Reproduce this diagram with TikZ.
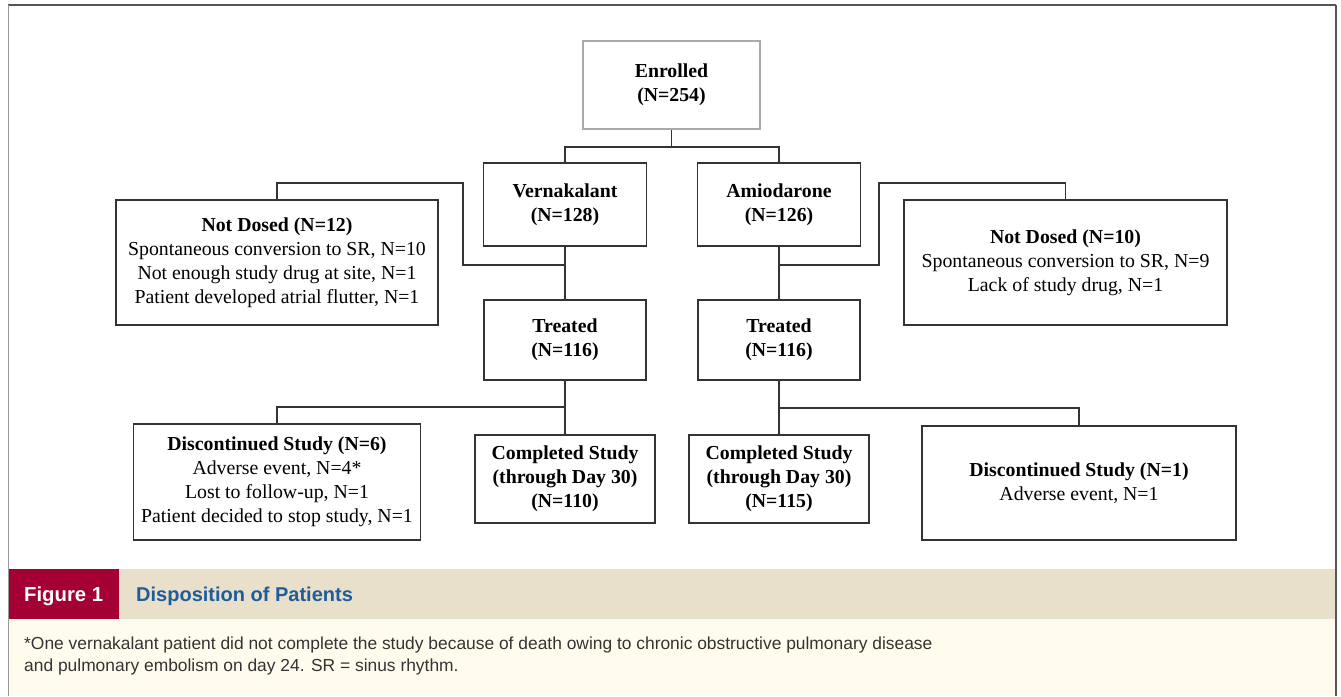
\documentclass[tikz,border=0pt]{standalone}
\usepackage{fontspec}
\setmainfont{Liberation Serif}
\newfontfamily\capfont{Liberation Sans}
\definecolor{linegray}{HTML}{333333}
\definecolor{boxgray}{HTML}{AAAAAA}
\definecolor{framegray}{HTML}{555555}
\definecolor{frameleft}{HTML}{999999}
\definecolor{capbar}{HTML}{E8E0CA}
\definecolor{figred}{HTML}{A50034}
\definecolor{capblue}{HTML}{1F5C99}
\definecolor{notebg}{HTML}{FFFCEE}
\definecolor{notetext}{HTML}{333333}
\tikzset{
  box/.style={draw=linegray, line width=1.6pt, rectangle, align=center, inner sep=0pt,
    font=\fontsize{19.8}{24}\selectfont},
  conn/.style={draw=linegray, line width=1.8pt},
}
\begin{document}
\begin{tikzpicture}[x=1pt,y=-1pt]
\useasboundingbox (0,0) rectangle (1341,696);
% background panels
\fill[white] (0,0) rectangle (1341,696);
\fill[capbar] (9,569) rectangle (1335,619);
\fill[figred] (9,569) rectangle (119,619);
\fill[notebg] (9,619) rectangle (1335,696);
% frame
\draw[framegray, line width=1.5pt] (8,5) -- (1336,5);
\draw[frameleft, line width=1.5pt] (8.5,5) -- (8.5,696);
\draw[framegray, line width=2pt] (1336,5) -- (1336,696);

% boxes
\node[box, draw=boxgray, minimum width=177pt, minimum height=88pt] (enr) at (671.5,85) {\textbf{Enrolled}\\\textbf{(N=254)}};
\node[box, minimum width=163pt, minimum height=83pt] (ver) at (565,204.5) {\textbf{Vernakalant}\\\textbf{(N=128)}};
\node[box, minimum width=163pt, minimum height=83pt] (ami) at (779,204.5) {\textbf{Amiodarone}\\\textbf{(N=126)}};
\node[box, minimum width=322pt, minimum height=125pt] (nd1) at (277,262.5) {\textbf{Not Dosed (N=12)}\\Spontaneous conversion to SR, N=10\\Not enough study drug at site, N=1\\Patient developed atrial flutter, N=1};
\node[box, minimum width=323pt, minimum height=125pt] (nd2) at (1065.5,262.5) {\textbf{Not Dosed (N=10)}\\Spontaneous conversion to SR, N=9\\Lack of study drug, N=1};
\node[box, minimum width=162pt, minimum height=80pt] (tr1) at (565,340) {\textbf{Treated}\\\textbf{(N=116)}};
\node[box, minimum width=162pt, minimum height=80pt] (tr2) at (779,340) {\textbf{Treated}\\\textbf{(N=116)}};
\node[box, minimum width=287pt, minimum height=116pt] (dc1) at (277,482) {\textbf{Discontinued Study (N=6)}\\Adverse event, N=4*\\Lost to follow-up, N=1\\Patient decided to stop study, N=1};
\node[box, minimum width=180pt, minimum height=88pt] (cp1) at (565,479) {\textbf{Completed Study}\\\textbf{(through Day 30)}\\\textbf{(N=110)}};
\node[box, minimum width=180pt, minimum height=88pt] (cp2) at (779,479) {\textbf{Completed Study}\\\textbf{(through Day 30)}\\\textbf{(N=115)}};
\node[box, minimum width=314pt, minimum height=114pt] (dc2) at (1079,483) {\textbf{Discontinued Study (N=1)}\\Adverse event, N=1};

% junction coordinates
\coordinate (j0) at (671.5,147);
\coordinate (jv) at (565,265);
\coordinate (ja) at (779,265);
\coordinate (jt1) at (565,407);
\coordinate (jt2) at (779,408);

% connectors
\draw[conn] (enr.south) -- (j0);
\draw[conn] (ver.north) |- (j0) -| (ami.north);
\draw[conn] (ver.south) -- (tr1.north);
\draw[conn] (ami.south) -- (tr2.north);
\draw[conn] (jv) -- (463,265) -- (463,183) -| (nd1.north);
\draw[conn] (ja) -- (879,265) -- (879,183) -| (nd2.north);
\draw[conn] (tr1.south) -- (cp1.north);
\draw[conn] (jt1) -| (dc1.north);
\draw[conn] (tr2.south) -- (cp2.north);
\draw[conn] (jt2) -| (dc2.north);

% caption
\node[anchor=base west, text=white, font=\capfont\bfseries\fontsize{20.3}{22}\selectfont, inner sep=0pt] (fig) at (24,601) {Figure 1};
\node[anchor=base west, text=capblue, font=\capfont\bfseries\fontsize{20}{22}\selectfont, inner sep=0pt] (title) at (136,601) {Disposition of Patients};
\node[anchor=north west, text=notetext, align=left, font=\capfont\fontsize{17.4}{22}\selectfont, inner sep=0pt] (note) at (24,637) {*One vernakalant patient did not complete the study because of death owing to chronic obstructive pulmonary disease\\and pulmonary embolism on day 24. SR = sinus rhythm.};
\end{tikzpicture}
\end{document}
